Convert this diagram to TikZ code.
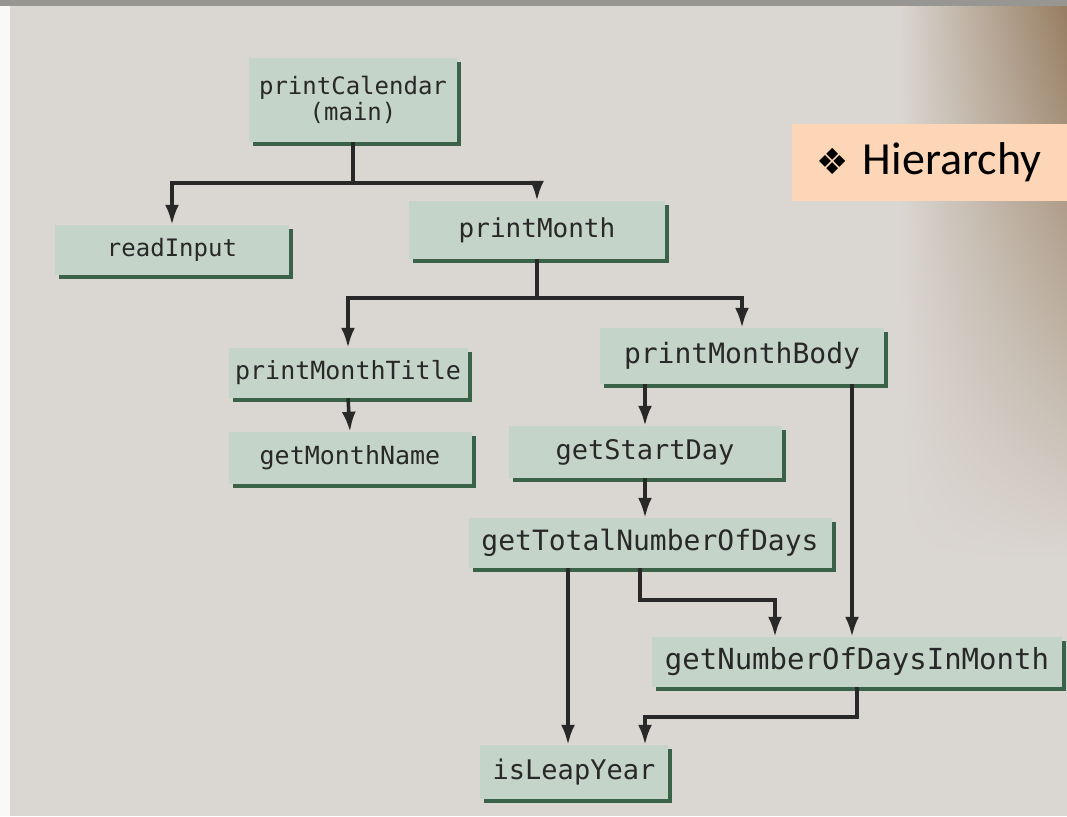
\documentclass[tikz,border=0pt]{standalone}
\usepackage{fontspec}
\setmainfont{Carlito}
\newfontfamily\boxfont{DejaVu Sans Mono}
\newfontfamily\symfont{DejaVu Sans}
\usetikzlibrary{arrows.meta,shadows,shadings}
\definecolor{paper}{RGB}{218,214,209}
\definecolor{paperdark}{RGB}{150,124,96}
\definecolor{boxfill}{RGB}{197,212,200}
\definecolor{boxshadow}{RGB}{58,98,72}
\definecolor{ink}{RGB}{40,40,40}
\definecolor{peach}{RGB}{252,214,182}
\newcommand\bsz[1]{\boxfont\fontsize{#1pt}{#1pt}\selectfont}
\tikzset{
  fn/.style={draw=none, fill=boxfill, text=ink, inner sep=4pt,
    drop shadow={shadow xshift=4pt, shadow yshift=-4pt, fill=boxshadow, opacity=1},
    align=center},
  link/.style={draw=ink, line width=3.5pt},
  arr/.style={link, -{Latex[length=20pt,width=14pt]}},
  tag/.style={fill=peach, minimum width=275pt, minimum height=77pt, inner sep=0pt, font=\fontsize{46pt}{46pt}\selectfont}
}
\begin{document}
\begin{tikzpicture}[x=1pt,y=-1pt]
\useasboundingbox (0,0) rectangle (1067,816);
\fill[paper] (0,0) rectangle (1067,816);
\shade[upper left=paper, lower left=paper, lower right=paper, upper right=paperdark] (900,0) rectangle (1067,560);
\fill[white!85!paper] (0,0) rectangle (10,816);
\fill[black!30!paper] (0,0) rectangle (1067,6);

% nodes
\node[fn, minimum width=208pt, minimum height=84pt] (pc) at (353,100) {\bsz{24}printCalendar\\[2pt]\bsz{24}(main)};
\node[fn, minimum width=234pt, minimum height=50pt] (ri) at (172,250) {\bsz{24}readInput};
\node[fn, minimum width=256pt, minimum height=58pt] (pm) at (537,230) {\bsz{26}printMonth};
\node[fn, minimum width=239pt, minimum height=50pt] (pmt) at (348,373) {\bsz{25}printMonthTitle};
\node[fn, minimum width=284pt, minimum height=56pt] (pmb) at (742,356) {\bsz{28}printMonthBody};
\node[fn, minimum width=243pt, minimum height=52pt] (gmn) at (350,458) {\bsz{25}getMonthName};
\node[fn, minimum width=273pt, minimum height=52pt] (gsd) at (645,452) {\bsz{27}getStartDay};
\node[fn, minimum width=363pt, minimum height=50pt] (gtn) at (650,543) {\bsz{28}getTotalNumberOfDays};
\node[fn, minimum width=410pt, minimum height=50pt] (gnd) at (857,662) {\bsz{29}getNumberOfDaysInMonth};
\node[fn, minimum width=188pt, minimum height=54pt] (ily) at (574,772) {\bsz{27}isLeapYear};

\node[tag] (hier) at (929,162) {{\symfont\fontsize{36pt}{36pt}\selectfont ❖}\hspace{0.3em}Hierarchy};

% helper coordinates
\coordinate (h1) at (0,183);
\coordinate (h2) at (0,298);
\coordinate (a1) at ([xshift=-6pt]ily.north);
\coordinate (b1) at ([xshift=-10pt]gtn.south);
\coordinate (b2) at ([xshift=-82pt]gnd.north);
\coordinate (c2) at ([xshift=71pt]ily.north);
\coordinate (d1) at ([xshift=110pt]pmb.south);

% connectors
\draw[link] (pc.south) -- (pc.south |- h1);
\draw[arr] (pc.south |- h1) -| (ri.north);
\draw[arr] (pc.south |- h1) -| (pm.north);
\draw[link] (pm.south) -- (pm.south |- h2);
\draw[arr] (pm.south |- h2) -| (pmt.north);
\draw[arr] (pm.south |- h2) -| (pmb.north);
\draw[arr] (pmt.south) -- (gmn.north);
\draw[arr] (pmb.south -| gsd.north) -- (gsd.north);
\draw[arr] (d1) -- (d1 |- gnd.north);
\draw[arr] (gsd.south) -- (gsd.south |- gtn.north);
\draw[arr] (a1 |- gtn.south) -- (a1);
\draw[arr] (b1) -- ++(0,32) -| (b2);
\draw[arr] (gnd.south) -- ++(0,30) -| (c2);
\end{tikzpicture}
\end{document}
